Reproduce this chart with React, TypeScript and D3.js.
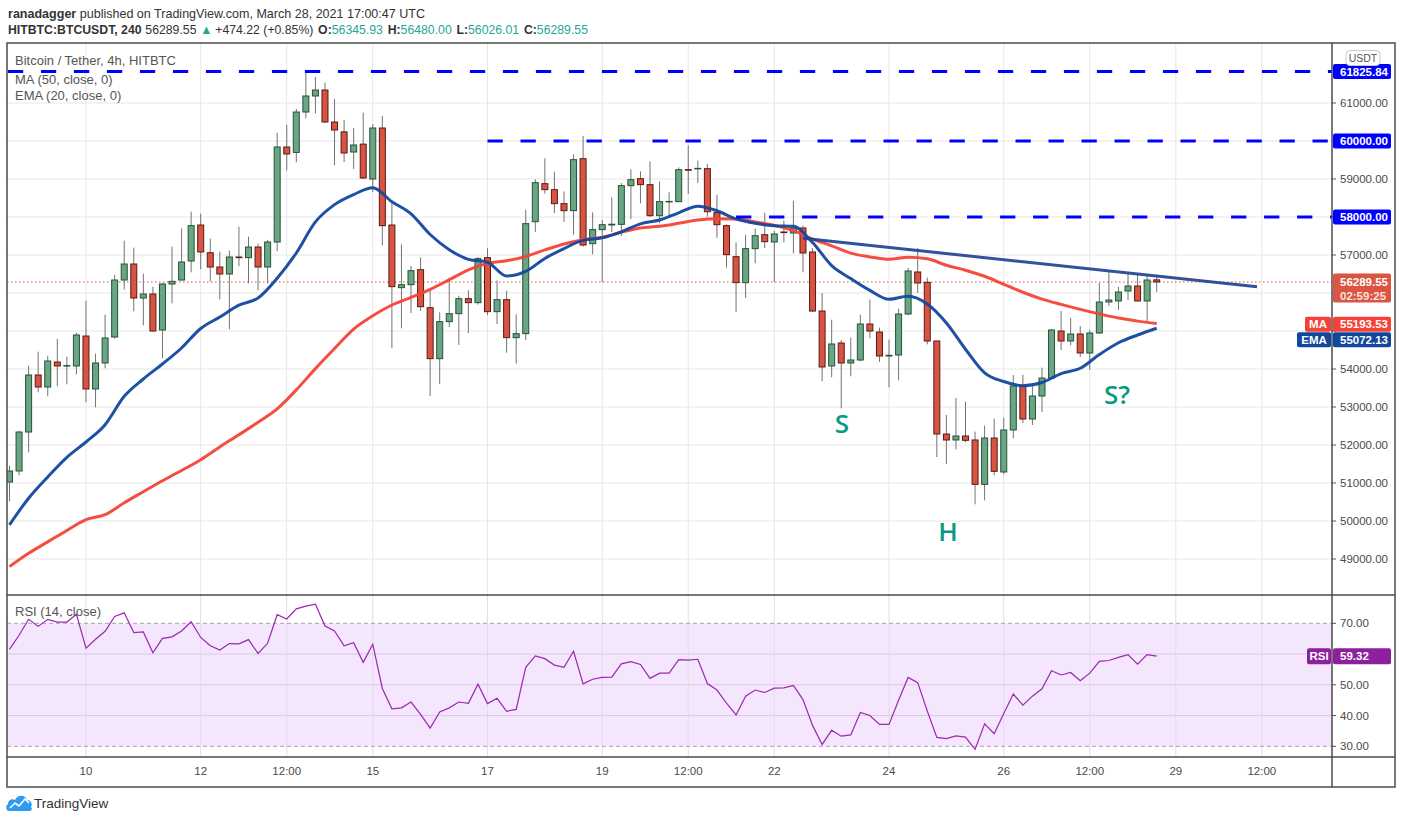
import React from 'react';
import * as d3 from 'd3';

const START_UTC = Date.UTC(2021, 2, 8, 16, 0);
const FOUR_H = 4 * 3600 * 1000;

const opens = [
  51026, 51316, 52342, 53842, 53526, 54184, 54079, 54079, 54868, 53474,
  54158, 54842, 56342, 56763, 55868, 55974, 55026, 56237, 56342, 56842,
  57789, 57060, 56684, 56500, 56947, 56930, 57210, 56684, 57342, 59842,
  59700, 60763, 61184, 61342, 60500, 60240, 59710, 59918, 59000, 60342,
  57789, 56140, 56219, 56614, 55614, 54272, 55246, 55456, 55851, 55746,
  56930, 55509, 55825, 54825, 54930, 57877, 58877, 58719, 58351, 58167,
  59535, 57298, 57667, 57790, 57807, 58825, 59009, 58851, 58035, 58400,
  58404, 59246, 59270, 59272, 58114, 57772, 56956, 56272, 57167, 57535,
  57342, 57605, 57579, 57711, 57079, 55526, 54079, 54684, 54158, 54237,
  55184, 54974, 54342, 54368, 55447, 56553, 56281, 54737, 52289, 52132,
  52237, 52132, 50965, 52184, 51290, 52395, 53553, 52684, 53289, 53763,
  55000, 54737, 54921, 54421, 54947, 55763, 55790, 56053, 56184, 55790,
  56345.93,
];
const highs = [
  51456, 52377, 54088, 54456, 54351, 54798, 54325, 54950, 55798, 54404,
  55430, 56474, 57377, 57193, 56509, 56167, 56260, 57219, 57700, 58140,
  58088, 57430, 57088, 57114, 57746, 57482, 57298, 57395, 60219, 60430,
  60842, 61800, 61684, 61535, 61105, 60553, 60342, 60746, 60447, 60658,
  58360, 57281, 56711, 56939, 56061, 55491, 56386, 55930, 56070, 56947,
  57175, 56333, 56061, 55439, 58193, 58991, 59544, 59193, 58675, 59649,
  60132, 58123, 57921, 58518, 58895, 59254, 59202, 59465, 58939, 58649,
  59307, 59886, 59482, 59395, 58588, 57807, 57333, 57535, 57693, 58114,
  57632, 57904, 58430, 57772, 57184, 56000, 55298, 54763, 54825, 55430,
  55825, 55088, 54772, 55588, 56658, 57184, 56404, 54740, 52789, 53237,
  53140, 52351, 52509, 52693, 52719, 53842, 53851, 53544, 54035, 55053,
  55526, 55342, 55132, 55026, 56263, 56579, 56158, 56500, 56500, 56500,
  56480,
];
const lows = [
  50518, 51202, 51807, 53386, 53281, 53544, 53596, 53860, 53123, 52991,
  54017, 54800, 56088, 55518, 55149, 54980, 54281, 55728, 56320, 56544,
  56623, 56307, 55833, 55044, 56702, 56254, 56070, 56254, 57096, 59228,
  59439, 60596, 60728, 60474, 59360, 59447, 59263, 59000, 58658, 57254,
  54544, 55070, 55474, 55526, 53289, 53605, 55105, 54632, 54947, 55693,
  55421, 55184, 54430, 54140, 54763, 57605, 58614, 58105, 57868, 57535,
  57219, 57018, 56289, 57605, 57500, 57947, 58360, 58000, 57842, 58009,
  58390, 58605, 58895, 58009, 57456, 56667, 55500, 55868, 56781, 57184,
  56289, 57333, 57044, 56544, 55500, 53675, 53781, 52965, 53807, 54200,
  54807, 54184, 53518, 53702, 55420, 56000, 54649, 51684, 51500, 51886,
  52070, 50439, 50544, 51202, 51228, 52175, 52579, 52526, 52868, 53740,
  54500, 54623, 54316, 53974, 54930, 55658, 55553, 55816, 55780, 55263,
  56026.01,
];
const closes = [
  51316, 52342, 53842, 53526, 54211, 54079, 54090, 54895, 53474, 54158,
  54816, 56342, 56763, 55868, 55974, 55000, 56237, 56307, 56816, 57772,
  57079, 56684, 56500, 56947, 56930, 57210, 56684, 57342, 59842, 59658,
  60763, 61184, 61342, 60500, 60289, 59684, 59895, 59026, 60342, 57772,
  56167, 56219, 56588, 55640, 54272, 55246, 55456, 55851, 55746, 56904,
  55509, 55825, 54825, 54930, 57825, 58904, 58719, 58351, 58167, 59509,
  57263, 57667, 57798, 57810, 58825, 58982, 58851, 58035, 58404, 58410,
  59246, 59230, 59280, 58140, 57798, 57009, 56272, 57167, 57509, 57351,
  57553, 57590, 57711, 57053, 55526, 54053, 54658, 54158, 54237, 55184,
  55000, 54342, 54360, 55447, 56579, 56263, 54737, 52289, 52132, 52237,
  52123, 50965, 52184, 51307, 52395, 53553, 52684, 53289, 53763, 55026,
  54737, 54921, 54421, 54947, 55763, 55816, 56026, 56184, 55790, 56342,
  56289.55,
];

const rsiValues = [
  61.5, 66.1, 71.3, 69.0, 71.3, 70.4, 70.4, 72.9, 61.9, 64.8,
  67.4, 72.2, 73.4, 67.0, 67.2, 60.4, 65.1, 65.6, 67.5, 70.5,
  65.4, 62.7, 61.3, 63.4, 63.3, 64.7, 60.2, 63.5, 72.8, 71.4,
  74.7, 75.6, 76.2, 69.1, 67.5, 62.7, 63.7, 57.3, 63.2, 48.8,
  42.2, 42.5, 44.4, 40.4, 35.9, 41.2, 42.5, 44.4, 44.0, 50.2,
  43.9, 45.6, 41.4, 42.0, 55.7, 59.4, 58.5, 56.4, 55.7, 60.9,
  50.3, 51.8, 52.4, 52.5, 56.8, 57.5, 56.6, 52.1, 53.8, 53.8,
  58.2, 58.0, 58.3, 50.4, 48.3, 44.0, 40.2, 46.3, 48.3, 47.5,
  48.9, 49.0, 49.8, 45.2, 36.8, 30.6, 35.2, 33.3, 33.7, 41.0,
  40.0, 37.1, 37.1, 45.0, 52.4, 50.7, 41.5, 32.9, 32.5, 33.4,
  33.0, 29.0, 37.3, 34.1, 40.7, 47.0, 43.4, 46.3, 48.7, 54.6,
  53.2, 54.0, 51.3, 53.8, 57.6, 57.9, 58.9, 59.8, 56.7, 59.8,
  59.32,
];

// MA(50) and EMA(20) at every second candle (0, 2, ..., 120)
const maValues = [
  48800, 49150, 49450, 49750, 50035, 50167, 50480, 50770, 51060, 51330,
  51614, 51950, 52270, 52600, 52950, 53450, 54010, 54540, 55050, 55400,
  55684, 55885, 56096, 56350, 56610, 56780, 56850, 56960, 57135, 57290,
  57400, 57470, 57600, 57710, 57755, 57835, 57920, 57955, 57950, 57870,
  57780, 57640, 57420, 57240, 57050, 56950, 56885, 56939, 56900, 56730,
  56600, 56440, 56230, 56020, 55840, 55700, 55570, 55450, 55340, 55260,
  55194,
];
const emaValues = [
  49900, 50600, 51160, 51675, 52079, 52535, 53281, 53737, 54132, 54553,
  55065, 55368, 55680, 55868, 56390, 57053, 57870, 58325, 58590, 58770,
  58400, 58085, 57540, 57140, 56886, 56810, 56447, 56570, 56910, 57170,
  57386, 57450, 57610, 57820, 57920, 58110, 58285, 58165, 57950, 57833,
  57772, 57755, 57330, 56720, 56380, 56070, 55835, 55912, 55710, 55211,
  54520, 53900, 53670, 53561, 53645, 53880, 54020, 54380, 54690, 54895,
  55072,
];

const priceTicks = [61000, 60000, 59000, 58000, 57000, 56000, 55000, 54000, 53000, 52000, 51000, 50000, 49000];
// tick labels covered by the last-price / MA / EMA boxes in the reference
const coveredPriceLabels = [56000, 55000];
const rsiGridLevels = [60, 50, 40];
const rsiBandLevels = [70, 30];
const rsiAxisLabels = [70, 50, 40, 30];

const timeTickDates = [
  '2021-03-10T00:00Z', '2021-03-12T00:00Z', '2021-03-13T12:00Z', '2021-03-15T00:00Z',
  '2021-03-17T00:00Z', '2021-03-19T00:00Z', '2021-03-20T12:00Z', '2021-03-22T00:00Z',
  '2021-03-24T00:00Z', '2021-03-26T00:00Z', '2021-03-27T12:00Z', '2021-03-29T00:00Z',
  '2021-03-30T12:00Z',
];
const timeTickLabels = ['10', '12', '12:00', '15', '17', '19', '12:00', '22', '24', '26', '12:00', '29', '12:00'];

const levelPrices = [61825.84, 60000, 58000];
const levelStarts = ['2021-03-08T15:20Z', '2021-03-17T00:00Z', '2021-03-21T08:00Z'];

const trendDates = ['2021-03-22T12:00Z', '2021-03-30T10:00Z'];
const trendPrices = [57440, 56166];

const annotationTexts = ['S', 'H', 'S?'];
const annotationDates = ['2021-03-23T04:20Z', '2021-03-25T00:40Z', '2021-03-27T23:25Z'];
const annotationPrices = [52579, 49737, 53342];

const lastPrice = 56289.55;
const countdown = '02:59:25';
const maLast = 55193.53;
const emaLast = 55072.13;
const rsiLast = 59.32;

const FONT = "'Liberation Sans', Arial, sans-serif";
const LEFT = 7;
const AXIS_X = 1332;
const RIGHT = 1395;
const MAIN_T = 43;
const MAIN_B = 595;
const RSI_B = 757;
const TIME_B = 787;

const UP_FILL = '#6ba583';
const UP_LINE = '#225437';
const DN_FILL = '#d75442';
const DN_LINE = '#5b1a13';
const WICK = '#737375';
const TEAL = '#26a69a';
const MA_COLOR = '#f44336';
const EMA_COLOR = '#12479e';
const LEVEL_BLUE = '#0000ff';
const RSI_COLOR = '#9c27b0';

export default function App() {
  const x = d3
    .scaleUtc()
    .domain([new Date(START_UTC), new Date(START_UTC + 120 * FOUR_H)])
    .range([9.5, 1156.7]);
  const y = d3.scaleLinear().domain([61000, 49000]).range([103, 559]);
  const ry = d3.scaleLinear().domain([70, 30]).range([623.3, 746.3]);
  const xi = (i: number) => x(new Date(START_UTC + i * FOUR_H));
  const fmt = d3.format('.2f');

  const lineEven = (vals: number[]) =>
    d3
      .line<number>()
      .x((_, k) => xi(k * 2))
      .y((v) => y(v))
      .curve(d3.curveMonotoneX)(vals) || '';

  const rsiPath =
    d3
      .line<number>()
      .x((_, k) => xi(k))
      .y((v) => ry(v))(rsiValues) || '';

  const tx = timeTickDates.map((d) => x(new Date(d)));

  const priceBox = (py: number, text: string, fill: string, key: string) => (
    <g key={key}>
      <rect x={AXIS_X + 1} y={py - 7.5} width={58} height={15} rx={2} fill={fill} />
      <text x={AXIS_X + 8} y={py + 4} fontSize={11.5} fill="#fff" fontFamily={FONT} fontWeight="bold">
        {text}
      </text>
    </g>
  );

  return (
    <svg
      width={1402}
      height={823}
      style={{ position: 'absolute', left: 0, top: 0, background: '#fff' }}
      fontFamily={FONT}
    >
      <defs>
        <clipPath id="mainClip">
          <rect x={LEFT} y={MAIN_T} width={AXIS_X - LEFT} height={MAIN_B - MAIN_T} />
        </clipPath>
        <clipPath id="rsiClip">
          <rect x={LEFT} y={MAIN_B} width={AXIS_X - LEFT} height={RSI_B - MAIN_B} />
        </clipPath>
      </defs>
      <rect x={0} y={0} width={1402} height={823} fill="#fff" />

      {/* header */}
      <text x={8} y={18} fontSize={13} fill="#333" textLength={417} lengthAdjust="spacingAndGlyphs">
        <tspan fontWeight="bold">ranadagger</tspan>
        <tspan> published on TradingView.com, March 28, 2021 17:00:47 UTC</tspan>
      </text>
      <text x={8} y={34} fontSize={13} fill="#333" textLength={580} lengthAdjust="spacingAndGlyphs">
        <tspan fontWeight="bold">HITBTC:BTCUSDT, 240</tspan>
        <tspan dx={4}>56289.55</tspan>
        <tspan dx={4} fill={TEAL}>▲</tspan>
        <tspan dx={3}>+474.22 (+0.85%)</tspan>
        <tspan dx={5} fontWeight="bold">O:</tspan>
        <tspan fill={TEAL}>56345.93</tspan>
        <tspan dx={5} fontWeight="bold">H:</tspan>
        <tspan fill={TEAL}>56480.00</tspan>
        <tspan dx={5} fontWeight="bold">L:</tspan>
        <tspan fill={TEAL}>56026.01</tspan>
        <tspan dx={5} fontWeight="bold">C:</tspan>
        <tspan fill={TEAL}>56289.55</tspan>
      </text>

      {/* main pane grid */}
      <g clipPath="url(#mainClip)">
        {priceTicks.map((p) => (
          <line key={'hg' + p} x1={LEFT} x2={AXIS_X} y1={y(p)} y2={y(p)} stroke="#e7e7e7" strokeWidth={1} />
        ))}
        {tx.map((v, k) => (
          <line key={'vg' + k} x1={v} x2={v} y1={MAIN_T} y2={MAIN_B} stroke="#e7e7e7" strokeWidth={1} />
        ))}
        <line
          x1={LEFT}
          x2={AXIS_X}
          y1={y(lastPrice)}
          y2={y(lastPrice)}
          stroke="#e0513e"
          strokeWidth={1}
          strokeDasharray="1.5 2.5"
        />

        {/* candles */}
        {closes.map((c, i) => {
          const o = opens[i];
          const up = c >= o;
          const cx = xi(i);
          const top = y(Math.max(o, c));
          const bot = y(Math.min(o, c));
          return (
            <g key={'c' + i}>
              <line x1={cx} x2={cx} y1={y(highs[i])} y2={y(lows[i])} stroke={WICK} strokeWidth={1} />
              <rect
                x={cx - 3}
                y={top}
                width={6}
                height={Math.max(0.5, bot - top)}
                fill={up ? UP_FILL : DN_FILL}
                stroke={up ? UP_LINE : DN_LINE}
                strokeWidth={1}
              />
            </g>
          );
        })}

        <path d={lineEven(maValues)} fill="none" stroke={MA_COLOR} strokeWidth={3} opacity={0.95} />
        <path d={lineEven(emaValues)} fill="none" stroke={EMA_COLOR} strokeWidth={3} opacity={0.95} />

        {levelPrices.map((p, k) => (
          <line
            key={'lv' + k}
            x1={x(new Date(levelStarts[k]))}
            x2={AXIS_X}
            y1={y(p)}
            y2={y(p)}
            stroke={LEVEL_BLUE}
            strokeWidth={3}
            strokeDasharray="15.3 17.7"
          />
        ))}

        <line
          x1={x(new Date(trendDates[0]))}
          y1={y(trendPrices[0])}
          x2={x(new Date(trendDates[1]))}
          y2={y(trendPrices[1])}
          stroke="#1f4593"
          strokeWidth={3}
          opacity={0.92}
        />

        {annotationTexts.map((t, k) => (
          <text
            key={'an' + k}
            x={x(new Date(annotationDates[k]))}
            y={y(annotationPrices[k])}
            textAnchor="middle"
            dominantBaseline="central"
            fontSize={26}
            fontWeight={600}
            fill="#089981"
            fontFamily="'Open Sans', 'Noto Sans', sans-serif"
          >
            {t}
          </text>
        ))}
      </g>

      {/* legend */}
      <text x={15} y={65} fontSize={13} fill="#555">Bitcoin / Tether, 4h, HITBTC</text>
      <text x={15} y={84} fontSize={13} fill="#555">MA (50, close, 0)</text>
      <text x={15} y={100} fontSize={13} fill="#555">EMA (20, close, 0)</text>

      {/* RSI pane */}
      <g clipPath="url(#rsiClip)">
        <rect
          x={LEFT}
          y={ry(rsiBandLevels[0])}
          width={AXIS_X - LEFT}
          height={ry(rsiBandLevels[1]) - ry(rsiBandLevels[0])}
          fill="#f4e6fc"
        />
        {tx.map((v, k) => (
          <line key={'rvg' + k} x1={v} x2={v} y1={MAIN_B} y2={RSI_B} stroke="#e4dbe8" strokeWidth={1} />
        ))}
        {rsiGridLevels.map((l) => (
          <line key={'rg' + l} x1={LEFT} x2={AXIS_X} y1={ry(l)} y2={ry(l)} stroke="#dcc8e6" strokeWidth={1} />
        ))}
        {rsiBandLevels.map((l) => (
          <line
            key={'rb' + l}
            x1={LEFT}
            x2={AXIS_X}
            y1={ry(l)}
            y2={ry(l)}
            stroke="#a9a1ad"
            strokeWidth={1}
            strokeDasharray="4 3"
          />
        ))}
        <path d={rsiPath} fill="none" stroke={RSI_COLOR} strokeWidth={1.2} />
      </g>
      <text x={15} y={616} fontSize={13} fill="#555">RSI (14, close)</text>

      {/* price axis */}
      {priceTicks.map((p) => (
        <g key={'pt' + p}>
          <line x1={AXIS_X} x2={AXIS_X + 4} y1={y(p)} y2={y(p)} stroke="#555" />
          {coveredPriceLabels.includes(p) ? null : (
            <text x={AXIS_X + 8} y={y(p) + 4} fontSize={11.5} fill="#4a4a4a">
              {fmt(p)}
            </text>
          )}
        </g>
      ))}
      {levelPrices.map((p, k) => priceBox(y(p), fmt(p), LEVEL_BLUE, 'lb' + k))}

      {/* last price box */}
      <rect x={AXIS_X + 1} y={y(lastPrice) - 8.5} width={58} height={29} rx={2} fill="#dc5442" />
      <text x={AXIS_X + 8} y={y(lastPrice) + 4} fontSize={11.5} fill="#fff" fontWeight="bold">
        {fmt(lastPrice)}
      </text>
      <text x={AXIS_X + 8} y={y(lastPrice) + 18} fontSize={11.5} fill="#fbe3df" fontWeight="bold">
        {countdown}
      </text>

      {/* MA / EMA boxes */}
      <rect x={AXIS_X - 27} y={y(maLast) - 7} width={26} height={15} rx={2} fill={MA_COLOR} />
      <text x={AXIS_X - 14} y={y(maLast) + 4.5} fontSize={11.5} fill="#fff" textAnchor="middle" fontWeight="bold">
        MA
      </text>
      <rect x={AXIS_X + 1} y={y(maLast) - 7} width={58} height={15} rx={2} fill={MA_COLOR} />
      <text x={AXIS_X + 8} y={y(maLast) + 4.5} fontSize={11.5} fill="#fff" fontWeight="bold">
        {fmt(maLast)}
      </text>
      <rect x={AXIS_X - 35} y={y(maLast) + 8.5} width={34} height={15} rx={2} fill={EMA_COLOR} />
      <text x={AXIS_X - 18} y={y(maLast) + 20} fontSize={11.5} fill="#fff" textAnchor="middle" fontWeight="bold">
        EMA
      </text>
      <rect x={AXIS_X + 1} y={y(maLast) + 8.5} width={58} height={15} rx={2} fill={EMA_COLOR} />
      <text x={AXIS_X + 8} y={y(maLast) + 20} fontSize={11.5} fill="#fff" fontWeight="bold">
        {fmt(emaLast)}
      </text>

      {/* USDT badge */}
      <rect x={1346} y={50.5} width={34} height={15} rx={4} fill="#fff" stroke="#c8c8c8" />
      <text x={1363} y={61.5} fontSize={10.5} fill="#555" textAnchor="middle">
        USDT
      </text>

      {/* RSI axis */}
      {rsiAxisLabels.map((l) => (
        <g key={'ra' + l}>
          <line x1={AXIS_X} x2={AXIS_X + 4} y1={ry(l)} y2={ry(l)} stroke="#555" />
          <text x={AXIS_X + 8} y={ry(l) + 4} fontSize={11.5} fill="#4a4a4a">
            {fmt(l)}
          </text>
        </g>
      ))}
      <rect x={AXIS_X - 25} y={ry(rsiLast) - 8} width={24} height={16} rx={2} fill="#8e1f9e" />
      <text x={AXIS_X - 13} y={ry(rsiLast) + 4} fontSize={11.5} fill="#fff" textAnchor="middle" fontWeight="bold">
        RSI
      </text>
      <rect x={AXIS_X + 1} y={ry(rsiLast) - 8} width={58} height={16} rx={2} fill="#8e1f9e" />
      <text x={AXIS_X + 8} y={ry(rsiLast) + 4} fontSize={11.5} fill="#fff" fontWeight="bold">
        {fmt(rsiLast)}
      </text>

      {/* time axis */}
      {tx.map((v, k) => (
        <text key={'tl' + k} x={v} y={775} fontSize={11.5} fill="#4a4a4a" textAnchor="middle">
          {timeTickLabels[k]}
        </text>
      ))}

      {/* frame */}
      <rect x={LEFT} y={MAIN_T} width={RIGHT - LEFT} height={TIME_B - MAIN_T} fill="none" stroke="#4b4b4b" strokeWidth={1.5} />
      <line x1={LEFT} x2={RIGHT} y1={MAIN_B} y2={MAIN_B} stroke="#4b4b4b" strokeWidth={1.5} />
      <line x1={LEFT} x2={RIGHT} y1={RSI_B} y2={RSI_B} stroke="#4b4b4b" strokeWidth={1.5} />
      <line x1={AXIS_X} x2={AXIS_X} y1={MAIN_T} y2={TIME_B} stroke="#4b4b4b" strokeWidth={1.5} />

      {/* TradingView logo */}
      <g>
        <path
          d="M9 811 C6 811 5 806 8 804 C8 800 12 798 15 800 C17 795 25 794 27 800 C31 800 33 804 31 807 C33 809 31 811 29 811 Z"
          fill="#2e9bf0"
        />
        <path d="M10 808 L15 803 L19 806 L25 799 L29 803" fill="none" stroke="#fff" strokeWidth={1.6} />
        <text x={34} y={808} fontSize={13.5} fill="#333">
          TradingView
        </text>
      </g>
    </svg>
  );
}
